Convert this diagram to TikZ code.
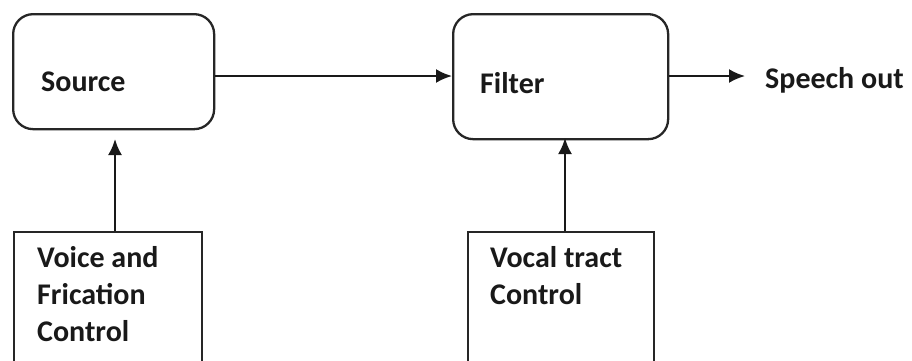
\documentclass[tikz,border=0pt]{standalone}
\usepackage{fontspec}
\setmainfont{Carlito}
\usetikzlibrary{arrows.meta}
\tikzset{
  blk/.style={draw=black!85, line width=2.3pt, rounded corners=20pt, inner sep=0pt},
  ctrl/.style={draw=black!85, line width=2pt, inner sep=0pt},
  lbl/.style={inner sep=0pt, font=\fontsize{30}{37}\selectfont\bfseries, text=black!90},
  conn/.style={line width=2.2pt, draw=black!90, -{Latex[length=16pt,width=14pt]}}
}
\begin{document}
\begin{tikzpicture}[x=1pt,y=-1pt]
\useasboundingbox (0,0) rectangle (912,360);
\clip (0,0) rectangle (912,360);
% main blocks
\node[blk, minimum width=201pt, minimum height=115pt, anchor=north west] (src) at (12,13) {};
\node[blk, minimum width=215pt, minimum height=125pt, anchor=north west] (flt) at (452,13) {};
\node[lbl, anchor=west] (srct) at (41,82) {Source};
\node[lbl, anchor=west] (fltt) at (480,83) {Filter};
\node[lbl, anchor=west] (out) at (765,80) {Speech out};
% control blocks
\node[ctrl, minimum width=188pt, minimum height=160pt, anchor=north west] (vfc) at (13,231) {};
\node[ctrl, minimum width=186pt, minimum height=160pt, anchor=north west] (vtc) at (467,231) {};
\node[lbl, anchor=north west, align=left] (vfct) at (37,246) {Voice and\\Frication\\Control};
\node[lbl, anchor=north west, align=left] (vtct) at (490,246) {Vocal tract\\Control};
% connectors
\coordinate (srcin) at (115,139);
\coordinate (fltin) at (565,138);
\draw[conn] (src.east |- 0,76) -- (flt.west |- 0,76);
\draw[conn] (flt.east |- 0,76) -- (745,76) coordinate (outend);
\draw[conn] (vfc.north -| srcin) -- (srcin);
\draw[conn] (vtc.north -| fltin) -- (fltin);
\end{tikzpicture}
\end{document}
